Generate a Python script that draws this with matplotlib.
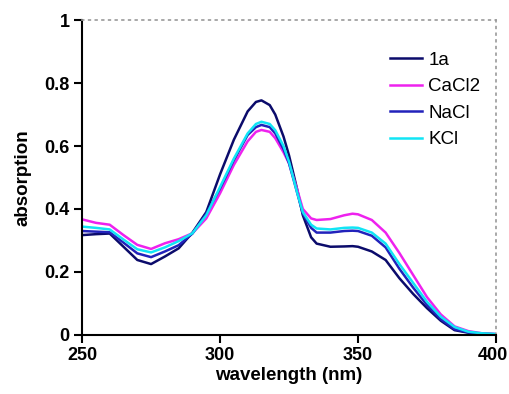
import matplotlib
matplotlib.use("Agg")
import matplotlib.pyplot as plt
import matplotlib.transforms as mtransforms

plt.rcParams['font.family'] = ['Liberation Sans', 'DejaVu Sans']

# wavelength grid (nm)
wl = [250, 255, 260, 265, 270, 275, 280, 285, 290, 295, 300, 305, 310, 313, 315,
      318, 320, 323, 325, 328, 330, 333, 335, 340, 345, 348, 350, 355, 360, 365,
      370, 375, 380, 385, 390, 395, 400]

a_1a = [0.317, 0.320, 0.322, 0.280, 0.238, 0.225, 0.249, 0.275, 0.325, 0.390, 0.510,
        0.620, 0.710, 0.740, 0.745, 0.730, 0.700, 0.630, 0.570, 0.460, 0.380, 0.310,
        0.290, 0.280, 0.281, 0.282, 0.280, 0.265, 0.238, 0.180, 0.130, 0.085, 0.045,
        0.015, 0.007, 0.003, 0.002]
a_cacl2 = [0.367, 0.356, 0.350, 0.317, 0.286, 0.273, 0.291, 0.304, 0.323, 0.370, 0.450,
           0.540, 0.615, 0.645, 0.651, 0.645, 0.625, 0.580, 0.545, 0.460, 0.400, 0.370,
           0.365, 0.368, 0.380, 0.385, 0.383, 0.365, 0.325, 0.260, 0.190, 0.120, 0.065,
           0.027, 0.012, 0.005, 0.003]
a_nacl = [0.330, 0.328, 0.326, 0.293, 0.259, 0.247, 0.265, 0.285, 0.322, 0.385, 0.465,
          0.555, 0.635, 0.660, 0.667, 0.660, 0.640, 0.590, 0.545, 0.450, 0.385, 0.340,
          0.325, 0.325, 0.330, 0.331, 0.330, 0.315, 0.278, 0.210, 0.150, 0.095, 0.050,
          0.018, 0.008, 0.004, 0.002]
a_kcl = [0.344, 0.340, 0.335, 0.303, 0.272, 0.262, 0.278, 0.298, 0.323, 0.380, 0.470,
         0.560, 0.640, 0.670, 0.677, 0.670, 0.650, 0.600, 0.550, 0.450, 0.390, 0.350,
         0.338, 0.335, 0.340, 0.341, 0.340, 0.325, 0.290, 0.225, 0.165, 0.105, 0.058,
         0.025, 0.010, 0.005, 0.003]

fig = plt.figure(figsize=(5.1, 3.94), dpi=100)
ax = fig.add_axes([0.161, 0.150, 0.8115, 0.799])

ax.plot(wl, a_1a, color='#0b0b6b', lw=1.8, label='1a')
ax.plot(wl, a_cacl2, color='#ee22ee', lw=1.8, label='CaCl2')
ax.plot(wl, a_nacl, color='#2222bb', lw=1.8, label='NaCl')
ax.plot(wl, a_kcl, color='#11e5f5', lw=1.8, label='KCl')

ax.set_xlim(250, 400)
ax.set_ylim(0, 1)
ax.set_xticks([250, 300, 350, 400])
ax.set_yticks([0, 0.2, 0.4, 0.6, 0.8, 1])
ax.set_yticklabels(['0', '0.2', '0.4', '0.6', '0.8', '1'])
ax.tick_params(direction='out', length=6, width=1.5, labelsize=13, pad=3)
for lab in ax.get_xticklabels() + ax.get_yticklabels():
    lab.set_fontweight('bold')
# keep the last x label inside the figure
last = ax.get_xticklabels()[-1]
last.set_transform(last.get_transform() +
                   mtransforms.ScaledTranslation(-3 / 100, 0, fig.dpi_scale_trans))

for s in ['left', 'bottom']:
    ax.spines[s].set_linewidth(1.5)
for s in ['top', 'right']:
    ax.spines[s].set_linestyle((0, (1, 3)))
    ax.spines[s].set_color('#999999')
    ax.spines[s].set_linewidth(1.2)

ax.set_xlabel('wavelength (nm)', fontsize=13.5, fontweight='bold', labelpad=2)
ax.set_ylabel('absorption', fontsize=13.5, fontweight='bold', labelpad=9)

ax.legend(loc='upper left', bbox_to_anchor=(0.744, 0.90), frameon=False,
          borderpad=0, borderaxespad=0,
          fontsize=13.5, handlelength=1.7, labelspacing=0.5, handletextpad=0.35)

fig.savefig('out.png', dpi=100)
